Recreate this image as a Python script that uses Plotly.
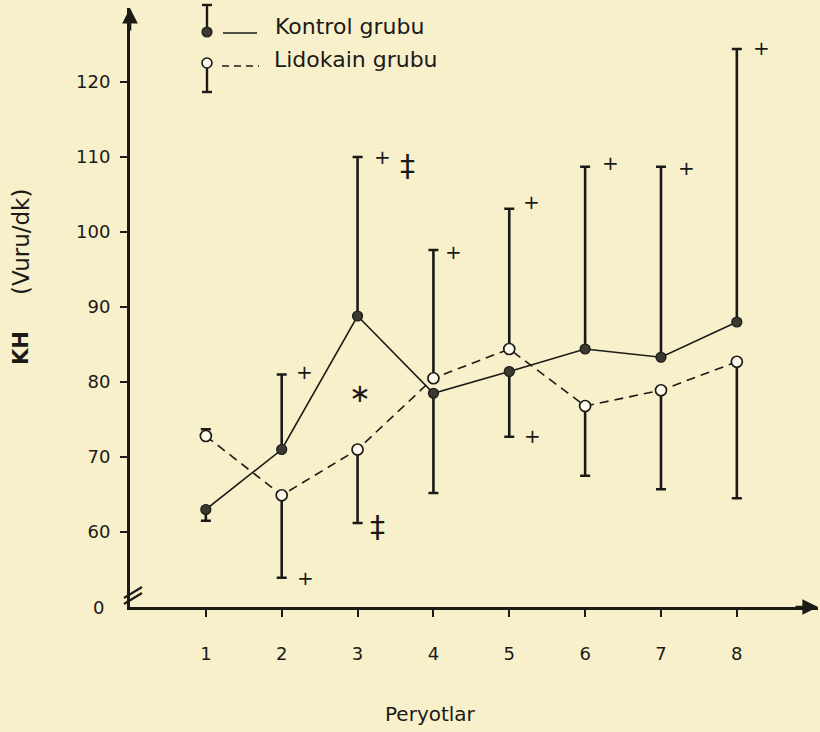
import plotly.graph_objects as go

# ---------------- data ----------------
periods = [1, 2, 3, 4, 5, 6, 7, 8]
period_labels = ["1", "2", "3", "4", "5", "6", "7", "8"]

kontrol_mean = [63.0, 71.0, 88.8, 78.5, 81.4, 84.4, 83.3, 88.0]
kontrol_sd = [1.5, 10.0, 21.2, 13.3, 8.7, 24.3, 25.4, 36.4]
kontrol_side = ["-", "+", "+", "-", "-", "+", "+", "+"]

lidokain_mean = [72.8, 64.9, 71.0, 80.5, 84.4, 76.8, 78.9, 82.7]
lidokain_sd = [0.9, 11.0, 9.8, 17.1, 18.7, 9.3, 13.2, 18.2]
lidokain_side = ["+", "-", "-", "+", "+", "-", "-", "-"]

y_tick_vals = [60, 70, 80, 90, 100, 110, 120]
y_tick_text = ["60", "70", "80", "90", "100", "110", "120"]
y_floor = 50
y_floor_label = "0"

# significance marks: x (period units), y (value), symbol
sig_x = [2.30, 2.32, 3.33, 3.66, 3.03, 3.26, 4.26, 5.29, 5.30, 6.33, 7.33, 8.33]
sig_y = [81.3, 53.9, 110.0, 108.9, 78.5, 60.7, 97.3, 104.0, 72.8, 109.2, 108.6, 124.6]
sig_sym = ["+", "+", "+", "‡", "∗", "‡", "+", "+", "+", "+", "+", "+"]

series_names = ["Kontrol grubu", "Lidokain grubu"]
x_title = "Peryotlar"
y_title_main = "KH"
y_title_unit = "(Vuru/dk)"

# ---------------- styling ----------------
INK = "#1b1a17"
PAPER = "#f8f0cb"
FONT = "DejaVu Sans"
W, H = 820, 732
L, R, T, B = 130, 2, 8, 125
PW, PH = W - L - R, H - T - B


def px(xp):
    return (xp - L) / PW


def py(yp):
    return (H - B - yp) / PH


def split(sd, side):
    up = [s if d == "+" else 0 for s, d in zip(sd, side)]
    dn = [s if d == "-" else 0 for s, d in zip(sd, side)]
    return up, dn


k_up, k_dn = split(kontrol_sd, kontrol_side)
l_up, l_dn = split(lidokain_sd, lidokain_side)

fig = go.Figure()

fig.add_trace(go.Scatter(
    x=periods, y=lidokain_mean, mode="lines+markers", name=series_names[1],
    line=dict(color=INK, width=1.6, dash="9px,6px"),
    marker=dict(symbol="circle", size=11, color="#fffbec",
                line=dict(color=INK, width=1.7)),
    error_y=dict(type="data", symmetric=False, array=l_up, arrayminus=l_dn,
                 color=INK, thickness=2.6, width=5),
    showlegend=False,
))
fig.add_trace(go.Scatter(
    x=periods, y=kontrol_mean, mode="lines+markers", name=series_names[0],
    line=dict(color=INK, width=1.6),
    marker=dict(symbol="circle", size=10, color="#3b3a30",
                line=dict(color=INK, width=1.2)),
    error_y=dict(type="data", symmetric=False, array=k_up, arrayminus=k_dn,
                 color=INK, thickness=2.6, width=5),
    showlegend=False,
))

annotations = []
for xv, yv, s in zip(sig_x, sig_y, sig_sym):
    size = 20 if s == "+" else (30 if s == "‡" else 26)
    annotations.append(dict(x=xv, y=yv, xref="x", yref="y", text=s, showarrow=False,
                            font=dict(family=FONT, size=size, color=INK),
                            xanchor="center", yanchor="middle"))

# "0" label at the broken axis foot
annotations.append(dict(x=0, y=y_floor, xref="paper", yref="y", text=y_floor_label,
                        showarrow=False, xanchor="right", yanchor="middle", xshift=-24,
                        font=dict(family=FONT, size=18, color=INK)))

# axis arrows
annotations.append(dict(x=0, y=1, xref="paper", yref="paper", ax=0, ay=24, text="",
                        showarrow=True, arrowhead=2, arrowsize=1.2, arrowwidth=2.6,
                        arrowcolor=INK))
annotations.append(dict(x=1, y=0, xref="paper", yref="paper", ax=-24, ay=0, text="",
                        showarrow=True, arrowhead=2, arrowsize=1.2, arrowwidth=2.6,
                        arrowcolor=INK))

# axis titles
annotations.append(dict(x=px(430), y=py(714), xref="paper", yref="paper", text=x_title,
                        showarrow=False, xanchor="center", yanchor="middle",
                        font=dict(family=FONT, size=20, color=INK)))
annotations.append(dict(x=px(21), y=py(348), xref="paper", yref="paper",
                        text="<b>" + y_title_main + "</b>",
                        textangle=-90, showarrow=False, xanchor="center", yanchor="middle",
                        font=dict(family=FONT, size=21, color=INK)))
annotations.append(dict(x=px(21), y=py(242), xref="paper", yref="paper",
                        text=y_title_unit,
                        textangle=-90, showarrow=False, xanchor="center", yanchor="middle",
                        font=dict(family=FONT, size=23, color=INK)))

# legend text
annotations.append(dict(x=px(273), y=py(27), xref="paper", yref="paper", text=series_names[0],
                        showarrow=False, xanchor="left", yanchor="middle",
                        font=dict(family=FONT, size=22, color=INK)))
annotations.append(dict(x=px(272), y=py(60), xref="paper", yref="paper", text=series_names[1],
                        showarrow=False, xanchor="left", yanchor="middle",
                        font=dict(family=FONT, size=22, color=INK)))

shapes = []
ln = dict(color=INK, width=2.4)
# legend: kontrol icon
shapes.append(dict(type="line", xref="paper", yref="paper", x0=px(207), x1=px(207), y0=py(5), y1=py(32), line=ln))
shapes.append(dict(type="line", xref="paper", yref="paper", x0=px(202), x1=px(212), y0=py(5), y1=py(5), line=ln))
shapes.append(dict(type="circle", xref="paper", yref="paper", x0=px(202), x1=px(212), y0=py(27), y1=py(37),
                   fillcolor="#3b3a30", line=dict(color=INK, width=1.2)))
shapes.append(dict(type="line", xref="paper", yref="paper", x0=px(223), x1=px(257), y0=py(33), y1=py(33),
                   line=dict(color=INK, width=1.6)))
# legend: lidokain icon
shapes.append(dict(type="line", xref="paper", yref="paper", x0=px(207), x1=px(207), y0=py(68), y1=py(92), line=ln))
shapes.append(dict(type="line", xref="paper", yref="paper", x0=px(202), x1=px(212), y0=py(92), y1=py(92), line=ln))
shapes.append(dict(type="circle", xref="paper", yref="paper", x0=px(202), x1=px(212), y0=py(58), y1=py(68),
                   fillcolor="#fffbec", line=dict(color=INK, width=1.6)))
shapes.append(dict(type="line", xref="paper", yref="paper", x0=px(222), x1=px(259), y0=py(66), y1=py(66),
                   line=dict(color=INK, width=1.6, dash="7px,5px")))
# axis break marks
shapes.append(dict(type="line", xref="paper", yref="paper", x0=px(124), x1=px(142), y0=py(598), y1=py(587),
                   line=dict(color=INK, width=2.2)))
shapes.append(dict(type="line", xref="paper", yref="paper", x0=px(124), x1=px(142), y0=py(604), y1=py(593),
                   line=dict(color=INK, width=2.2)))

fig.update_layout(
    width=W, height=H,
    margin=dict(l=L, r=R, t=T, b=B, pad=0),
    paper_bgcolor=PAPER, plot_bgcolor=PAPER,
    font=dict(family=FONT, color=INK),
    annotations=annotations, shapes=shapes,
    showlegend=False,
)
fig.update_xaxes(range=[0, 9.07], tickvals=periods, ticktext=period_labels,
                 showgrid=False, zeroline=False, showline=True, linewidth=3, linecolor=INK,
                 ticks="outside", ticklen=7, tickwidth=2, tickcolor=INK,
                 tickfont=dict(family=FONT, size=18, color=INK), ticklabelstandoff=21)
fig.update_yaxes(range=[y_floor, 129.87], tickvals=y_tick_vals, ticktext=y_tick_text,
                 showgrid=False, zeroline=False, showline=True, linewidth=3, linecolor=INK,
                 ticks="outside", ticklen=7, tickwidth=2, tickcolor=INK,
                 tickfont=dict(family=FONT, size=18, color=INK), ticklabelstandoff=6)

fig.write_html("out.html", config={"displayModeBar": False},
               post_script="document.body.style.margin='0px';document.body.style.background='" + PAPER + "';")
